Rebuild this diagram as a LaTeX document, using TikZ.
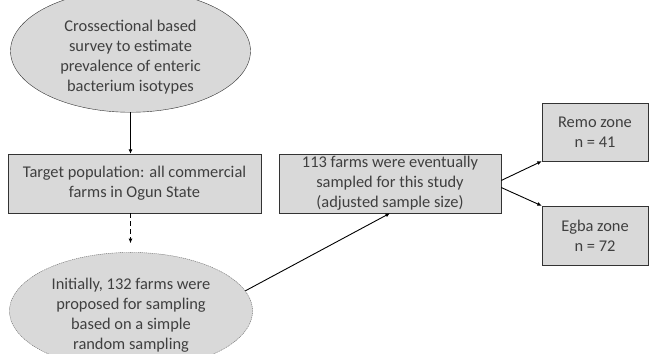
\documentclass[tikz,border=0pt]{standalone}
\usepackage{fontspec}
\setmainfont{Carlito}
\usetikzlibrary{shapes.geometric,arrows.meta}
\definecolor{boxgray}{HTML}{D9D9D9}
\definecolor{textgray}{HTML}{3F3F3F}
\begin{document}
\begin{tikzpicture}[x=1pt,y=-1pt]
    % Define styles for nodes and edges
    \tikzstyle{oval}=[ellipse,draw=black!80,fill=boxgray,text=textgray,inner sep=0pt,align=center,
        font=\fontsize{16.4}{20}\selectfont]
    \tikzstyle{stepbox}=[rectangle,draw=black!80,fill=boxgray,text=textgray,inner sep=0pt,align=center,
        font=\fontsize{16.4}{20}\selectfont]
    \tikzstyle{link}=[black,line width=0.9pt,-{Latex[length=4.5pt,width=4pt]}]
    \useasboundingbox (0,0) rectangle (649,354);

    % Left column: survey, population, initial sample
    \node[oval,minimum width=240,minimum height=98] (survey) at (130.5,51)
        {\rule{0pt}{24pt}Crossectional based\\survey to estimate\\prevalence of enteric\\bacterium isotypes};
    \node[stepbox,minimum width=253,minimum height=59] (target) at (134.5,183.5)
        {Target population: all commercial\\farms in Ogun State};
    \node[oval,draw=black!60,dash pattern=on 1.2pt off 0.8pt,minimum width=243,minimum height=92] (initial) at (131,311)
        {\rule{0pt}{20pt}Initially, 132 farms were\\proposed for sampling\\based on a simple\\random sampling};

    % Middle and right: adjusted sample and zones
    \node[stepbox,minimum width=222,minimum height=59] (sampled) at (390,183.5)
        {113 farms were eventually\\sampled for this study\\(adjusted sample size)};
    \node[stepbox,minimum width=106,minimum height=58] (remo) at (595,132)
        {Remo zone\\n = 41};
    \node[stepbox,minimum width=106,minimum height=59] (egba) at (595,235.5)
        {Egba zone\\n = 72};

    % Connectors
    \draw[link] (survey.south) -- (survey.south |- target.north);
    \draw[link,dash pattern=on 5pt off 3pt,shorten >=9pt] (survey.south |- target.south) -- (survey.south |- initial.north);
    \draw[link] (initial.10) -- (sampled.south);
    \draw[link] ([yshift=3pt]sampled.east) -- (remo.south west);
    \draw[link] ([yshift=-4pt]sampled.east) -- (egba.north west);
\end{tikzpicture}
\end{document}
